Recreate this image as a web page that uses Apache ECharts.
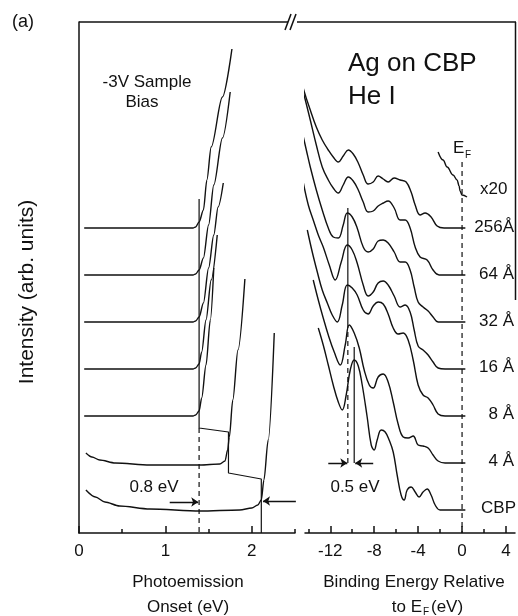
<!DOCTYPE html>
<html>
<head>
<meta charset="utf-8">
<script src="https://cdn.jsdelivr.net/npm/echarts@6/dist/echarts.min.js"></script>
<style>
html,body{margin:0;padding:0;background:#fff;}
#chart{width:518px;height:616px;}
</style>
</head>
<body>
<div id="chart"></div>
<script>
// stacking offsets (arb. units) for each film thickness, top to bottom
const labels = ['256Å', '64 Å', '32 Å', '16 Å', '8 Å', '4 Å', 'CBP'];
const offsets = [30.5, 25.8, 21.1, 16.4, 11.7, 7.0, 2.3];

// photoemission onset (eV) vs intensity above its baseline
const onset256 = [[0.06,0],[1.32,0],[1.35,0.1],[1.39,0.6],[1.44,1.8],[1.48,4.8],[1.53,8.1],[1.66,13.1],[1.77,17.9]];
const onset64 = [[0.06,0],[1.32,0],[1.35,0.1],[1.39,0.5],[1.44,1.7],[1.50,5.0],[1.56,9.0],[1.66,13.7],[1.75,18.3]];
const onset32 = [[0.06,0],[1.32,0],[1.35,0.1],[1.39,0.5],[1.44,1.9],[1.50,5.4],[1.56,8.7],[1.61,11.5],[1.67,13.9]];
const onset16 = [[0.06,0],[1.32,0],[1.35,0.1],[1.39,0.5],[1.42,1.7],[1.47,4.9],[1.53,8.9],[1.60,13.4]];
const onset8 = [[0.06,0],[1.32,0],[1.35,0.1],[1.39,0.5],[1.42,1.8],[1.47,5.1],[1.52,9.6],[1.56,14.8]];
const onset4 = [[0.08,1.0],[0.15,0.6],[0.24,0.3],[0.42,0],[0.82,-0.2],[1.40,-0.2],[1.63,-0.1],[1.69,0.2],[1.72,1.3],[1.74,2.6],[1.78,6.3],[1.84,11.3],[1.92,18.4]];
const onsetCBP = [[0.08,2.0],[0.19,1.3],[0.30,0.8],[0.47,0.4],[0.82,0.1],[1.40,-0.1],[1.86,0],[2.00,0.2],[2.07,0.5],[2.11,1.0],[2.14,3.0],[2.19,7.0],[2.26,17.7]];

// valence band: binding energy rel. to EF (eV) vs intensity above baseline
const vb256 = [[-14.82,15.6],[-14.36,13.6],[-13.82,11.8],[-13.27,10.1],[-12.73,8.8],[-12.18,7.8],[-11.73,7.1],[-11.27,6.6],[-10.82,7.2],[-10.36,7.8],[-9.91,7.4],[-9.45,6.5],[-9.0,5.3],[-8.55,4.4],[-8.09,4.6],[-7.64,5.2],[-7.18,4.9],[-6.73,4.6],[-6.18,5.0],[-5.64,4.8],[-5.09,4.6],[-4.64,3.6],[-4.27,2.3],[-3.82,1.3],[-3.36,1.5],[-2.82,1.1],[-2.27,0.2],[-1.64,0],[0.3,0]];
const vb64 = [[-14.55,18.7],[-14.18,17.1],[-13.82,15.5],[-13.27,13.0],[-12.73,10.8],[-12.18,9.5],[-11.73,8.7],[-11.27,8.2],[-10.82,9.0],[-10.36,9.8],[-9.91,9.4],[-9.45,8.5],[-9.0,7.3],[-8.55,6.3],[-8.09,6.4],[-7.64,6.9],[-7.18,7.2],[-6.73,7.4],[-6.18,6.7],[-5.64,5.5],[-5.18,5.5],[-4.73,4.7],[-4.27,2.8],[-3.82,1.8],[-3.18,1.5],[-2.64,0.5],[-2.09,0],[0.3,0]];
const vb32 = [[-14.45,18.5],[-14.18,17.2],[-13.82,15.5],[-13.27,13.2],[-12.73,11.2],[-12.18,9.4],[-11.73,8.5],[-11.27,8.4],[-10.82,9.7],[-10.45,10.9],[-10.0,10.5],[-9.55,9.4],[-9.0,7.5],[-8.55,7.0],[-8.09,7.3],[-7.64,8.1],[-7.18,8.2],[-6.73,7.9],[-6.18,7.0],[-5.64,6.0],[-5.18,6.0],[-4.73,5.2],[-4.36,3.5],[-4.0,2.0],[-3.55,1.5],[-3.09,1.1],[-2.64,0.5],[-2.18,0],[0.3,0]];
const vb16 = [[-14.45,18.6],[-14.0,16.4],[-13.55,14.9],[-13.09,13.4],[-12.64,12.2],[-12.09,10.4],[-11.55,8.9],[-11.0,10.7],[-10.45,12.4],[-10.0,11.9],[-9.55,10.6],[-9.0,8.4],[-8.55,7.3],[-8.09,7.7],[-7.64,8.6],[-7.18,8.8],[-6.73,8.4],[-6.18,7.3],[-5.64,6.2],[-5.18,6.4],[-4.73,5.7],[-4.36,3.9],[-4.0,2.3],[-3.55,1.9],[-3.09,1.4],[-2.64,0.7],[-2.18,0.1],[-1.55,0],[0.3,0]];
const vb8 = [[-14.09,18.6],[-13.64,16.4],[-13.18,14.4],[-12.73,12.6],[-12.27,11.3],[-11.82,10.1],[-11.36,9.4],[-10.91,11.1],[-10.45,13.1],[-10.0,12.8],[-9.55,12.1],[-9.0,10.6],[-8.55,10.2],[-8.09,11.0],[-7.64,11.4],[-7.18,11.2],[-6.73,10.2],[-6.27,8.8],[-5.82,8.2],[-5.36,8.3],[-4.91,7.6],[-4.45,5.6],[-4.0,3.1],[-3.55,2.1],[-3.09,1.8],[-2.64,1.1],[-2.18,0.2],[-1.55,0],[0.3,0]];
const vb4 = [[-13.55,18.3],[-13.09,16.3],[-12.64,14.5],[-12.18,12.8],[-11.64,11.1],[-11.09,9.8],[-10.64,11.8],[-10.27,13.8],[-9.82,13.0],[-9.36,11.5],[-8.91,9.3],[-8.45,7.8],[-8.09,7.5],[-7.64,8.6],[-7.18,8.9],[-6.73,8.1],[-6.27,6.1],[-5.82,3.9],[-5.36,2.6],[-4.91,2.5],[-4.45,2.7],[-4.0,1.8],[-3.55,1.7],[-3.09,1.5],[-2.64,0.8],[-2.18,0.2],[-1.55,0],[0.3,0]];
const vbCBP = [[-13.09,18.2],[-12.64,16.5],[-12.18,14.5],[-11.73,12.5],[-11.27,10.8],[-10.91,10.0],[-10.55,11.5],[-10.18,14.0],[-9.82,15.0],[-9.45,14.4],[-9.09,12.5],[-8.64,9.3],[-8.27,6.5],[-8.0,6.0],[-7.73,7.0],[-7.36,8.0],[-7.0,7.8],[-6.64,7.0],[-6.27,5.8],[-5.91,3.5],[-5.55,1.5],[-5.27,1.0],[-5.0,2.0],[-4.64,2.3],[-4.27,1.8],[-3.91,1.3],[-3.55,1.8],[-3.18,2.1],[-2.82,1.5],[-2.45,0.5],[-2.0,0],[0.3,0]];

// Fermi edge of 256 Å, x20
const fermiX20 = [[-2.18,4.5],[-1.73,3.7],[-1.36,3.0],[-0.82,2.2],[-0.45,1.7],[-0.27,1.1],[-0.18,0.6],[0,0.2],[0.45,0]];
const fermiOffset = 33.6;

// guide lines (absolute intensity)
const onsetSteps = [[1.39,33.4],[1.39,10.5],[1.73,10.1],[1.73,6.0],[2.11,5.4],[2.11,0]];
const onsetDash = [[1.39,10.5],[1.39,0]];
const agPeak = [[-10.4,32.5],[-10.4,21.0]];
const agPeakDash = [[-10.4,21.0],[-10.4,7.0]];
const cbpPeak = [[-9.82,18.6],[-9.82,7.0]];
const efLine = [[0,37.1],[0,0]];

const onsetSets = [onset256, onset64, onset32, onset16, onset8, onset4, onsetCBP];
const vbSets = [vb256, vb64, vb32, vb16, vb8, vb4, vbCBP];

const FONT = '"Liberation Sans", Arial, Helvetica, sans-serif';
const INK = '#111';

const chart = echarts.init(document.getElementById('chart'));

function shift(data, off) {
  return data.map(p => [p[0], +(p[1] + off).toFixed(2)]);
}
function curve(data, xi, yi, smooth, mono) {
  return {
    type: 'line', xAxisIndex: xi, yAxisIndex: yi, data: data,
    symbol: 'none', smooth: smooth, smoothMonotone: mono ? 'x' : null, clip: false,
    lineStyle: {color: INK, width: 1.4}, silent: true, animation: false
  };
}
function guide(data, xi, yi, dashed) {
  return {
    type: 'line', xAxisIndex: xi, yAxisIndex: yi, data: data,
    symbol: 'none', clip: false, silent: true, animation: false,
    lineStyle: {color: INK, width: 1.2, type: dashed ? [5, 4] : 'solid'}
  };
}
function arrows(coords, xi, yi) {
  return {
    type: 'lines', coordinateSystem: 'cartesian2d', xAxisIndex: xi, yAxisIndex: yi,
    symbol: ['none', 'arrow'], symbolSize: 7, silent: true, animation: false,
    lineStyle: {color: INK, width: 1.3, opacity: 1, curveness: 0},
    data: coords.map(c => ({coords: c}))
  };
}

const series = [];
onsetSets.forEach((d, i) => series.push(curve(shift(d, offsets[i]), 0, 0, 0.3, true)));
vbSets.forEach((d, i) => series.push(curve(shift(d, offsets[i]), 2, 1, 0.4, false)));
series.push(curve(shift(fermiX20, fermiOffset), 2, 1, 0.4, true));
series.push(guide(onsetSteps, 0, 0, false));
series.push(guide(onsetDash, 0, 0, true));
series.push(guide(agPeak, 2, 1, false));
series.push(guide(agPeakDash, 2, 1, true));
series.push(guide(cbpPeak, 2, 1, false));
series.push(guide(efLine, 2, 1, true));
series.push(arrows([[[1.05, 3.1], [1.38, 3.1]], [[2.51, 3.2], [2.13, 3.2]]], 0, 0));
series.push(arrows([[[-12.18, 7.0], [-10.45, 7.0]], [[-8.09, 7.0], [-9.73, 7.0]]], 2, 1));

const axisLine = {show: true, onZero: false, lineStyle: {color: INK, width: 1.5}};
function xMain(grid, min, max, ticks) {
  return {
    type: 'value', gridIndex: grid, min: min, max: max, position: 'bottom',
    axisLine: axisLine, splitLine: {show: false},
    axisTick: {show: true, inside: true, length: 7, customValues: ticks, lineStyle: {color: INK, width: 1.5}},
    axisLabel: {show: true, customValues: ticks, margin: 10, color: INK, fontSize: 17, fontFamily: FONT}
  };
}
function xMinor(grid, min, max, ticks) {
  return {
    type: 'value', gridIndex: grid, min: min, max: max, position: 'bottom', offset: 0,
    axisLine: {show: false, onZero: false}, splitLine: {show: false}, axisLabel: {show: false},
    axisTick: {show: true, inside: true, length: 4, customValues: ticks, lineStyle: {color: INK, width: 1.5}}
  };
}
function yFrame(grid, pos, line) {
  return {
    type: 'value', gridIndex: grid, min: 0, max: 51.1, position: pos,
    axisLine: line ? axisLine : {show: false, onZero: false},
    axisTick: {show: false}, axisLabel: {show: false}, splitLine: {show: false}
  };
}

function txt(text, x, y, size, align, extra) {
  return Object.assign({
    type: 'text', x: x, y: y, silent: true,
    style: {text: text, fill: INK, font: size + 'px ' + FONT,
      align: align, verticalAlign: 'middle', textAlign: align, textVerticalAlign: 'middle'}
  }, extra || {});
}
function seg(x1, y1, x2, y2) {
  return {type: 'line', silent: true, shape: {x1: x1, y1: y1, x2: x2, y2: y2},
    style: {stroke: INK, lineWidth: 1.5}};
}

const labelY = [227, 274, 321, 367, 414, 461, 508];
const graphics = [
  // frame top with axis break, and the right edge as it shows in the scan
  seg(79, 22, 288, 22), seg(297, 22, 516, 22), seg(515.5, 22, 515.5, 300),
  seg(285, 30, 291, 14), seg(290, 30, 296, 14),
  txt('(a)', 12, 22, 18, 'left'),
  txt('-3V Sample', 147, 82, 17, 'center'),
  txt('Bias', 142, 102, 17, 'center'),
  txt('Ag on CBP', 348, 64, 26, 'left'),
  txt('He I', 348, 97, 26, 'left'),
  txt('0.8 eV', 154, 487, 17, 'center'),
  txt('0.5 eV', 355, 487, 17, 'center'),
  txt('E', 453, 148, 17, 'left'),
  txt('F', 465, 155, 10, 'left'),
  txt('x20', 480, 189, 17, 'left'),
  txt('Intensity (arb. units)', 27, 292, 21, 'center', {rotation: Math.PI / 2}),
  txt('Photoemission', 188, 582, 17, 'center'),
  txt('Onset (eV)', 188, 607, 17, 'center'),
  txt('Binding Energy Relative', 414, 582, 17, 'center'),
  txt('to E', 422, 607, 17, 'right'),
  txt('F', 423, 612, 10, 'left'),
  txt('(eV)', 431, 607, 17, 'left')
];
labels.forEach((l, i) => graphics.push(txt(l, l === 'CBP' ? 516 : 514, labelY[i], 17, 'right')));

chart.setOption({
  animation: false,
  backgroundColor: '#fff',
  textStyle: {fontFamily: FONT},
  grid: [
    {left: 79, right: 223, top: 22, bottom: 83},
    {left: 305, right: 3, top: 22, bottom: 83}
  ],
  xAxis: [
    xMain(0, 0, 2.5, [0, 1, 2]),
    xMinor(0, 0, 2.5, [0.5, 1.5, 2.5]),
    xMain(1, -14.3, 4.82, [-12, -8, -4, 0, 4]),
    xMinor(1, -14.3, 4.82, [-14, -10, -6, -2, 2])
  ],
  yAxis: [yFrame(0, 'left', true), yFrame(1, 'right', false)],
  series: series,
  graphic: {elements: graphics}
});
</script>
</body>
</html>
